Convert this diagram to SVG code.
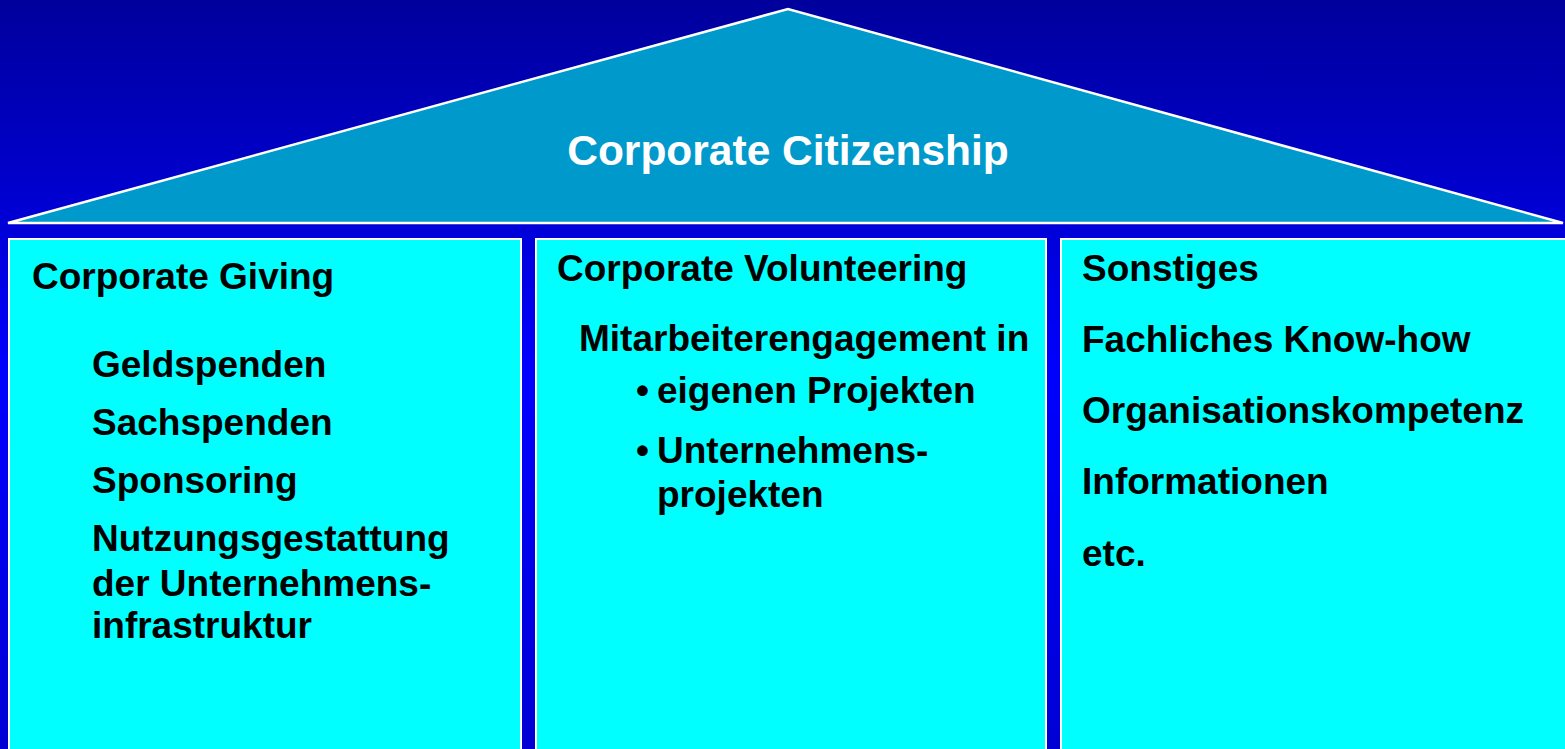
<svg xmlns="http://www.w3.org/2000/svg" width="1565" height="749" viewBox="0 0 1565 749">
<defs>
<linearGradient id="bg" x1="0" y1="0" x2="0" y2="1">
<stop offset="0" stop-color="#00009c"/>
<stop offset="0.5" stop-color="#0000ff"/>
<stop offset="1" stop-color="#0000d4"/>
</linearGradient>
</defs>
<style>
.box{fill:#00ffff;stroke:#ffffff;stroke-width:2}
.t{font-family:"Liberation Sans",Arial,sans-serif;font-weight:bold;font-size:37px;fill:#000000}
.title{font-family:"Liberation Sans",Arial,sans-serif;font-weight:bold;font-size:42.5px;fill:#ffffff}
</style>
<rect x="0" y="0" width="1565" height="749" fill="url(#bg)"/>
<g id="roof">
<polygon points="8,223 788,9 1563,223" fill="#0099cc" stroke="#ffffff" stroke-width="2.5" stroke-linejoin="miter"/>
<text class="title" x="788" y="165" text-anchor="middle">Corporate Citizenship</text>
</g>
<g id="giving">
<rect class="box" x="9" y="239" width="512" height="520"/>
<text class="t" x="32" y="289">Corporate Giving</text>
<text class="t" x="92" y="377">Geldspenden</text>
<text class="t" x="92" y="435">Sachspenden</text>
<text class="t" x="92" y="493">Sponsoring</text>
<text class="t" x="92" y="551">Nutzungsgestattung</text>
<text class="t" x="92" y="596">der Unternehmens-</text>
<text class="t" x="92" y="638">infrastruktur</text>
</g>
<g id="volunteering">
<rect class="box" x="536" y="239" width="510" height="520"/>
<text class="t" x="557" y="281">Corporate Volunteering</text>
<text class="t" x="579" y="351">Mitarbeiterengagement in</text>
<text class="t" x="636" y="403">•</text>
<text class="t" x="657" y="403">eigenen Projekten</text>
<text class="t" x="636" y="463">•</text>
<text class="t" x="657" y="463">Unternehmens-</text>
<text class="t" x="657" y="507">projekten</text>
</g>
<g id="sonstiges">
<rect class="box" x="1061" y="239" width="520" height="520"/>
<text class="t" x="1082" y="281">Sonstiges</text>
<text class="t" x="1082" y="352">Fachliches Know-how</text>
<text class="t" x="1082" y="423">Organisationskompetenz</text>
<text class="t" x="1082" y="494">Informationen</text>
<text class="t" x="1082" y="566">etc.</text>
</g>
<g id="connectors"></g>
</svg>
